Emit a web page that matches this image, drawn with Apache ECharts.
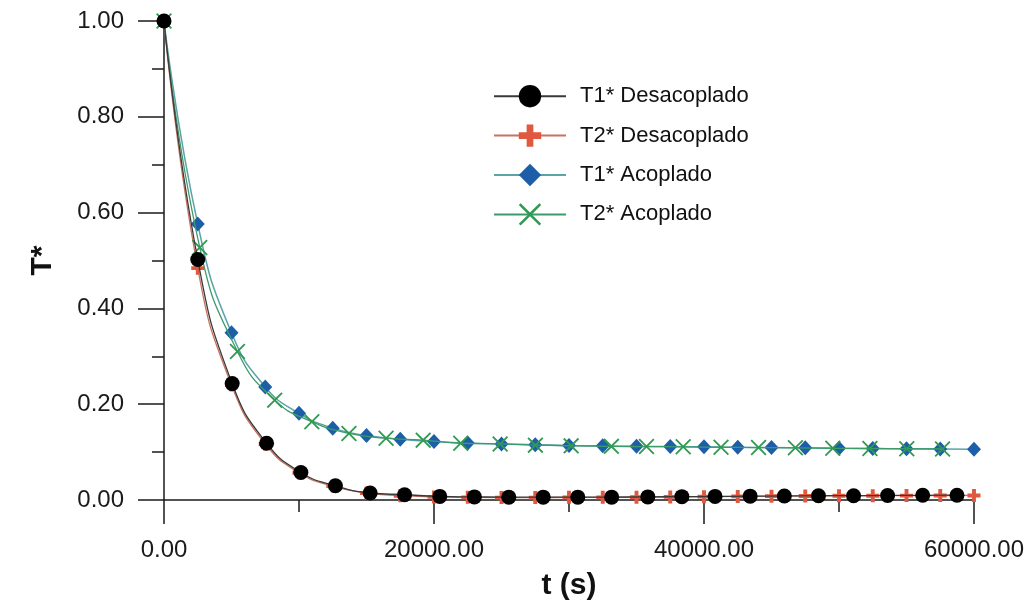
<!DOCTYPE html>
<html>
<head>
<meta charset="utf-8">
<script src="https://cdn.jsdelivr.net/npm/echarts@6/dist/echarts.min.js"></script>
<style>
  html, body { margin: 0; padding: 0; background: #fff; }
  #chart { width: 1030px; height: 606px; }
</style>
</head>
<body>
<div id="chart"></div>
<script>
// t (s) e T*
const seriesNames = ["T1* Desacoplado", "T2* Desacoplado", "T1* Acoplado", "T2* Acoplado"];

const t1DesTime = [0, 2500, 5050, 7600, 10140, 12700, 15270, 17820, 20430, 22990, 25540, 28090,
  30650, 33160, 35840, 38360, 40820, 43420, 45950, 48480, 51080, 53600, 56200, 58740];
const t1DesVal = [1.0, 0.502, 0.243, 0.1185, 0.0575, 0.0297, 0.0146, 0.011, 0.0075, 0.0065, 0.006, 0.006,
  0.006, 0.006, 0.0065, 0.007, 0.0075, 0.008, 0.0085, 0.009, 0.009, 0.0095, 0.0098, 0.010];

const t2DesTime = [0, 2500, 5000, 7500, 10000, 12500, 15000, 17500, 20000, 22500, 25000, 27500, 30000,
  32500, 35000, 37500, 40000, 42500, 45000, 47500, 50000, 52500, 55000, 57500, 60000];
const t2DesVal = [1.0, 0.484, 0.240, 0.117, 0.057, 0.029, 0.0145, 0.009, 0.0065, 0.0055, 0.005, 0.005, 0.0055,
  0.0055, 0.006, 0.0065, 0.007, 0.0075, 0.008, 0.0085, 0.0088, 0.009, 0.0092, 0.0094, 0.0095];

const t1AcTime = [0, 2500, 5000, 7500, 10000, 12500, 15000, 17500, 20000, 22500, 25000, 27500, 30000,
  32500, 35000, 37500, 40000, 42500, 45000, 47500, 50000, 52500, 55000, 57500, 60000];
const t1AcVal = [1.0, 0.576, 0.349, 0.236, 0.181, 0.150, 0.1345, 0.127, 0.122, 0.119, 0.117, 0.1155, 0.114,
  0.113, 0.112, 0.1115, 0.111, 0.110, 0.1095, 0.109, 0.108, 0.1075, 0.107, 0.1065, 0.106];

const t2AcTime = [0, 2650, 5440, 8200, 10950, 13700, 16450, 19200, 21980, 24900, 27510, 30160,
  33140, 35740, 38460, 41260, 44040, 46770, 49540, 52290, 55020, 57670];
const t2AcVal = [1.0, 0.527, 0.310, 0.2085, 0.1635, 0.139, 0.129, 0.125, 0.1185, 0.117, 0.1145, 0.113,
  0.112, 0.1115, 0.111, 0.110, 0.1095, 0.109, 0.108, 0.1075, 0.107, 0.1065];

const xTicks = [0, 20000, 40000, 60000];
const yTicks = [0, 0.2, 0.4, 0.6, 0.8, 1.0];

const pairs = (xs, ys) => xs.map((x, i) => [x, ys[i]]);

const plusPath = "path://M35,0H65V35H100V65H65V100H35V65H0V35H35Z";
const crossPath = "path://M0,8L8,0L50,42L92,0L100,8L58,50L100,92L92,100L50,58L8,100L0,92L42,50Z";

const chart = echarts.init(document.getElementById("chart"));

const axisColor = "#1a1a1a";

const option = {
  animation: false,
  backgroundColor: "#fff",
  textStyle: { fontFamily: "Liberation Sans, Arial, sans-serif" },
  grid: { left: 164, right: 56, top: 21, bottom: 104 },
  legend: {
    orient: "vertical",
    left: 488,
    top: 80,
    itemWidth: 72,
    itemHeight: 28,
    itemGap: 17,
    data: seriesNames,
    textStyle: { fontSize: 22, color: "#111", padding: [0, 0, 0, 9] },
  },
  xAxis: {
    type: "value",
    min: xTicks[0],
    max: xTicks[xTicks.length - 1],
    interval: 20000,
    name: "t (s)",
    nameLocation: "middle",
    nameGap: 71,
    nameTextStyle: { fontSize: 30, fontWeight: "bold", color: "#111" },
    axisLine: { onZero: false, lineStyle: { color: axisColor, width: 1.5 } },
    axisTick: { length: 24, lineStyle: { color: axisColor, width: 1.5 } },
    minorTick: { show: true, splitNumber: 2, length: 12, lineStyle: { color: axisColor, width: 1.5 } },
    axisLabel: {
      margin: 38,
      fontSize: 24,
      color: "#1a1a1a",
      formatter: (v) => v.toFixed(2),
    },
    splitLine: { show: false },
  },
  yAxis: {
    type: "value",
    min: yTicks[0],
    max: yTicks[yTicks.length - 1],
    interval: 0.2,
    name: "T*",
    nameLocation: "middle",
    nameGap: 106,
    nameRotate: 90,
    nameTextStyle: { fontSize: 30, fontWeight: "bold", color: "#111" },
    axisLine: { onZero: false, lineStyle: { color: axisColor, width: 1.5 } },
    axisTick: { length: 26, lineStyle: { color: axisColor, width: 1.5 } },
    minorTick: { show: true, splitNumber: 2, length: 12, lineStyle: { color: axisColor, width: 1.5 } },
    axisLabel: {
      margin: 40,
      fontSize: 24,
      color: "#1a1a1a",
      formatter: (v) => v.toFixed(2),
    },
    splitLine: { show: false },
  },
  series: [
    {
      name: seriesNames[0],
      type: "line",
      z: 4,
      data: pairs(t1DesTime, t1DesVal),
      smooth: 0.5,
      symbol: "circle",
      symbolSize: 15,
      itemStyle: { color: "#000" },
      lineStyle: { color: "#3a3a3a", width: 1.3 },
    },
    {
      name: seriesNames[1],
      type: "line",
      z: 3,
      data: pairs(t2DesTime, t2DesVal),
      smooth: 0.5,
      symbol: plusPath,
      symbolSize: 13,
      itemStyle: { color: "#e0583f" },
      lineStyle: { color: "#c8735f", width: 1.3 },
    },
    {
      name: seriesNames[2],
      type: "line",
      z: 2,
      data: pairs(t1AcTime, t1AcVal),
      smooth: 0.5,
      symbol: "diamond",
      symbolSize: [14, 15],
      itemStyle: { color: "#1c5fa8" },
      lineStyle: { color: "#5aa3a6", width: 1.5 },
    },
    {
      name: seriesNames[3],
      type: "line",
      z: 3,
      data: pairs(t2AcTime, t2AcVal),
      smooth: 0.5,
      symbol: crossPath,
      symbolSize: 16,
      itemStyle: { color: "#2f9a50" },
      lineStyle: { color: "#3d9a6a", width: 1.3 },
    },
  ],
};

chart.setOption(option);
</script>
</body>
</html>
